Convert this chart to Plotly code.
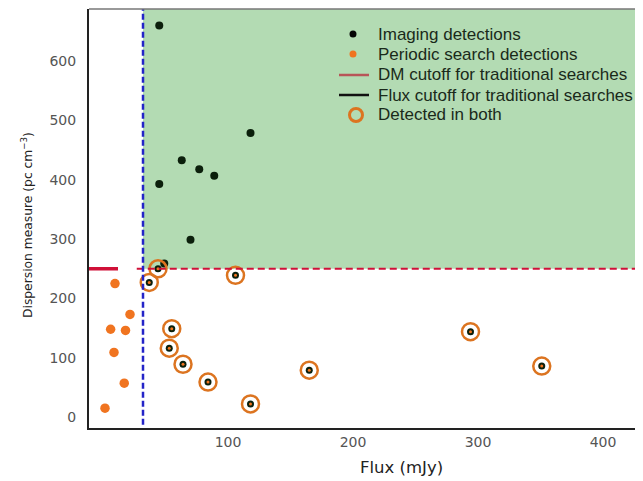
import plotly.graph_objects as go

# Imaging-only detections (flux mJy, DM pc cm^-3)
img_flux = [45, 118, 63, 77, 89, 45, 70, 49]
img_dm = [660, 479, 433, 418, 407, 393, 299, 259]

# Periodic-search-only detections
per_flux = [9.6, 21.6, 6.1, 18, 8.8, 17, 1.6]
per_dm = [225, 173, 148, 146, 109, 57, 15]

# Detected in both
both_flux = [44, 37, 106, 55, 53, 64, 84, 118, 165, 294, 351]
both_dm = [250, 227, 239, 149, 116, 89, 59, 22, 79, 144, 86]

legend_labels = ["Imaging detections", "Periodic search detections",
                 "DM cutoff for traditional searches", "Flux cutoff for traditional searches",
                 "Detected in both"]

DM_CUT = 250
FLUX_CUT = 32
X_RANGE = [-11.2, 428]
Y_RANGE = [-18.5, 688]
x_ticks = [100, 200, 300, 400]
y_ticks = [0, 100, 200, 300, 400, 500, 600]

ORANGE = "#f07420"
RING = "#dc7420"
DARK = "#0b1f0b"

# plot area geometry (pixels, inside figure)
PW, PH = 549, 419

fig = go.Figure()

# green region
fig.add_shape(type="rect", x0=FLUX_CUT, x1=X_RANGE[1], y0=DM_CUT, y1=Y_RANGE[1],
              fillcolor="#b3dbb3", line=dict(width=0), layer="below")
# DM cutoff: thick segment at left, dashed thin across
fig.add_shape(type="line", x0=X_RANGE[0], x1=12, y0=DM_CUT, y1=DM_CUT,
              line=dict(color="#d01038", width=3.5))
fig.add_shape(type="line", x0=27, x1=X_RANGE[1], y0=DM_CUT, y1=DM_CUT,
              line=dict(color="#d01038", width=2, dash="7px,4px"))
# Flux cutoff
fig.add_shape(type="line", x0=FLUX_CUT, x1=FLUX_CUT, y0=-13, y1=Y_RANGE[1],
              line=dict(color="#2424c8", width=2.5, dash="6px,3px"))

fig.add_trace(go.Scatter(x=img_flux, y=img_dm, mode="markers", name=legend_labels[0],
                         marker=dict(color=DARK, size=8)))
fig.add_trace(go.Scatter(x=per_flux, y=per_dm, mode="markers", name=legend_labels[1],
                         marker=dict(color=ORANGE, size=9.5)))
fig.add_trace(go.Scatter(x=both_flux, y=both_dm, mode="markers", name=legend_labels[4],
                         marker=dict(symbol="circle-open", color=RING, size=17, line=dict(width=2.5, color=RING))))
fig.add_trace(go.Scatter(x=both_flux, y=both_dm, mode="markers", showlegend=False,
                         marker=dict(color=DARK, size=7)))
fig.add_trace(go.Scatter(x=both_flux, y=both_dm, mode="markers", showlegend=False,
                         marker=dict(color=ORANGE, size=3)))

# grey top/right frame
fig.add_shape(type="line", xref="paper", yref="paper", x0=0, x1=1, y0=1, y1=1,
              line=dict(color="#777777", width=1.5))
fig.add_shape(type="line", xref="paper", yref="paper", x0=1, x1=1, y0=0, y1=1,
              line=dict(color="#999999", width=1.5))

# manual legend (positions in plot-area pixels from top-left)
rows_y = [25, 45, 66, 86, 106]
text_x = 287
sym_x = 264


def px(xp):
    return xp / PW


def py(yp):
    return 1 - yp / PH


def pixel_shape(kind, cx, cy, x0, x1, y0, y1, **kw):
    fig.add_shape(type=kind, xref="paper", yref="paper", xsizemode="pixel", ysizemode="pixel",
                  xanchor=px(cx), yanchor=py(cy), x0=x0, x1=x1, y0=y0, y1=y1, **kw)


pixel_shape("circle", sym_x, rows_y[0], -3.5, 3.5, -3.5, 3.5, fillcolor="#050505", line=dict(width=0))
pixel_shape("circle", sym_x, rows_y[1], -3.5, 3.5, -3.5, 3.5, fillcolor=ORANGE, line=dict(width=0))
pixel_shape("line", sym_x, rows_y[2], -14, 16, 0, 0, line=dict(color="#b85558", width=2.5))
pixel_shape("line", sym_x, rows_y[3], -14, 16, 0, 0, line=dict(color="#111111", width=2.5))
pixel_shape("circle", sym_x + 3, rows_y[4], -6.5, 6.5, -6.5, 6.5, line=dict(color=RING, width=3))

for lab, ry in zip(legend_labels, rows_y):
    fig.add_annotation(xref="paper", yref="paper", x=px(text_x), y=py(ry), text=lab,
                       showarrow=False, xanchor="left", yanchor="middle",
                       font=dict(size=17, color="#1a2a1a", family="Liberation Sans, Arial, sans-serif"))

# axis titles (as annotations for exact placement)
fig.add_annotation(xref="paper", yref="paper", x=px(-62), y=py(216), textangle=-90,
                   text="Dispersion measure (pc cm<sup>−3</sup>)", showarrow=False,
                   xanchor="center", yanchor="middle",
                   font=dict(size=12.3, color="#222222", family="DejaVu Sans"))
fig.add_annotation(xref="paper", yref="paper", x=px(312), y=py(458),
                   text="Flux (mJy)", showarrow=False, xanchor="center", yanchor="middle",
                   font=dict(size=16.5, color="#222222", family="DejaVu Sans"))

fig.update_layout(
    width=635, height=473,
    margin=dict(l=81, r=5, t=1, b=53),
    paper_bgcolor="white", plot_bgcolor="white",
    font=dict(family="Liberation Sans, Arial, sans-serif", color="#222222"),
    showlegend=False,
)
fig.update_xaxes(range=X_RANGE, tickvals=x_ticks, showgrid=False, zeroline=False,
                 showline=True, linecolor="#222222", linewidth=2, ticks="", automargin=False,
                 tickfont=dict(size=14, color="#555555", family="DejaVu Sans"))
fig.update_yaxes(range=Y_RANGE, tickvals=y_ticks, showgrid=False, zeroline=False,
                 showline=True, linecolor="#222222", linewidth=2, ticks="", automargin=False,
                 ticklabelstandoff=8,
                 tickfont=dict(size=14, color="#555555", family="DejaVu Sans"))

fig.write_html("out.html")
